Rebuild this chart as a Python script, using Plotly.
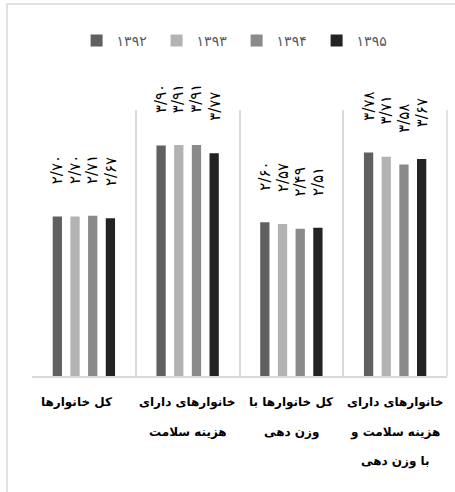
import plotly.graph_objects as go

categories = ["کل خانوارها", "خانوارهای دارای هزینه سلامت", "کل خانوارها با وزن دهی",
              "خانوارهای دارای هزینه سلامت و با وزن دهی"]
category_lines = [["کل خانوارها"],
                  ["خانوارهای دارای", "هزینه سلامت"],
                  ["کل خانوارها با", "وزن دهی"],
                  ["خانوارهای دارای", "هزینه سلامت و", "با وزن دهی"]]
series_names = ["۱۳۹۲", "۱۳۹۳", "۱۳۹۴", "۱۳۹۵"]
v1392 = [2.70, 3.90, 2.60, 3.78]
v1393 = [2.70, 3.91, 2.57, 3.71]
v1394 = [2.71, 3.91, 2.49, 3.58]
v1395 = [2.67, 3.77, 2.51, 3.67]
series_values = [v1392, v1393, v1394, v1395]
colors = ["#606060", "#b3b3b3", "#8a8a8a", "#232323"]

FA = str.maketrans("0123456789", "۰۱۲۳۴۵۶۷۸۹")


def fa_label(v):
    return f"{v:.2f}".replace(".", "/").translate(FA)


W, H = 455, 492
fig = go.Figure()
for name, vals, col in zip(series_names, series_values, colors):
    fig.add_trace(go.Bar(x=categories, y=vals, name=name,
                         marker=dict(color=col, line=dict(width=0))))

annotations = []
pitch = 17.7
for i, vals in enumerate(series_values):
    for c, v in zip(categories, vals):
        annotations.append(dict(x=c, y=v, xref="x", yref="y", text=fa_label(v),
                                textangle=-90, showarrow=False, yanchor="bottom",
                                xanchor="center", xshift=(i - 1.5) * pitch, yshift=30,
                                font=dict(family="DejaVu Sans", size=15, color="#000000")))

line_y = [402, 432, 461]
cat_xshift = [-7, 0, 0, 0]
for c, lines, xs in zip(categories, category_lines, cat_xshift):
    for k, ln in enumerate(lines):
        annotations.append(dict(x=c, y=1 - line_y[k] / H, xref="x", yref="paper", text=ln,
                                showarrow=False, xanchor="center", yanchor="middle", xshift=xs,
                                font=dict(family="DejaVu Sans", size=12, color="#000000",
                                          weight="bold")))

fig.update_layout(
    width=W, height=H,
    margin=dict(l=0, r=0, t=0, b=0),
    paper_bgcolor="white", plot_bgcolor="white",
    barmode="group", bargap=0.318, bargroupgap=0.475,
    showlegend=True,
    legend=dict(orientation="h", x=0.52, xanchor="center", y=1 - 41 / H, yanchor="middle",
                itemwidth=30, entrywidth=35,
                font=dict(family="DejaVu Sans", size=14, color="#595959"),
                traceorder="normal"),
    xaxis=dict(domain=[32 / W, 447 / W], tickson="boundaries", showgrid=True,
               gridcolor="#d9d9d9", gridwidth=1.5, showline=True, linecolor="#d9d9d9",
               linewidth=1.5, showticklabels=False, ticks="", zeroline=False),
    yaxis=dict(domain=[1 - 376 / H, 1 - 110 / H], range=[0, 4.5], visible=False),
    annotations=annotations,
    shapes=[dict(type="rect", xref="paper", yref="paper", x0=7 / W, x1=1.2,
                 y0=-0.2, y1=1 - 4 / H, line=dict(color="#d9d9d9", width=1.5),
                 fillcolor="rgba(0,0,0,0)", layer="below"),
            dict(type="line", xref="x domain", yref="y domain", x0=1, x1=1, y0=0, y1=1,
                 line=dict(color="#d9d9d9", width=1.5), layer="below")],
)
fig.write_html("out.html", config={"displayModeBar": False},
               post_script="document.body.style.margin='0';document.body.style.padding='0';")
